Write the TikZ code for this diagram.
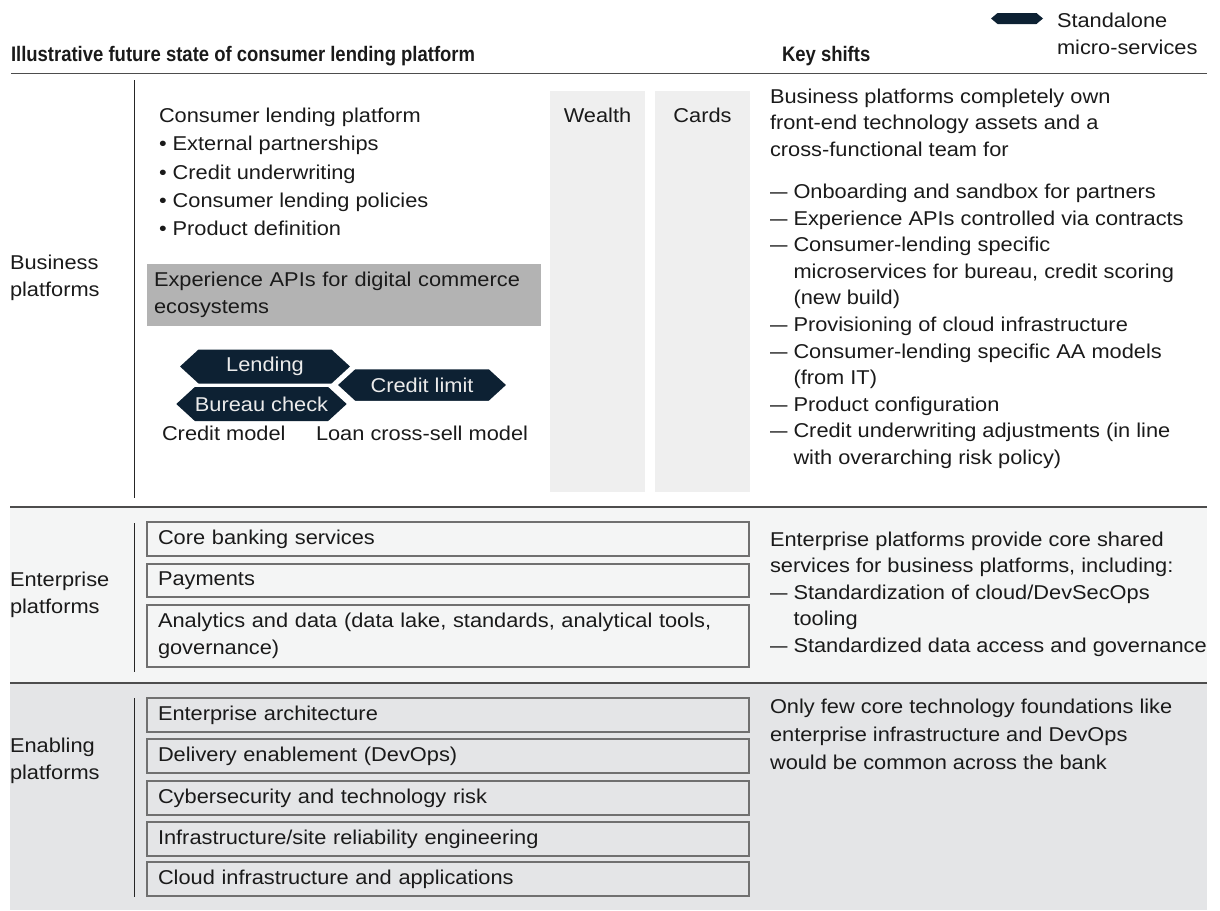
\documentclass[tikz,border=0pt]{standalone}
\usepackage{fontspec}
\setmainfont{Liberation Sans}[FakeStretch=1.09, BoldFeatures={FakeStretch=0.88}]
\usetikzlibrary{shapes.symbols}
\definecolor{navy}{HTML}{0D2133}
\definecolor{txt}{HTML}{1A1A1A}
\definecolor{apigrey}{HTML}{B3B3B3}
\definecolor{colgrey}{HTML}{EFEFEF}
\definecolor{entbg}{HTML}{F4F5F5}
\definecolor{enabg}{HTML}{E4E5E7}
\definecolor{linec}{HTML}{4D4D4D}
\definecolor{boxc}{HTML}{707070}
\newcommand\topline{\rule{0pt}{18pt}}
\newcommand\dsh{\scalebox{0.8}[1]{—}\ }
\newcommand\ind{\phantom{\dsh}}
\begin{document}
\begin{tikzpicture}[x=1pt,y=-1pt,
  every node/.style={inner sep=0pt, outer sep=0pt, text=txt},
  base/.style={font=\fontsize{20}{26.6}\selectfont},
  wide/.style={font=\fontsize{20}{28.3}\selectfont},
  txtblock/.style={base, anchor=north west, align=left},
  txtwide/.style={wide, anchor=north west, align=left},
  head/.style={font=\fontsize{21}{26.6}\selectfont\bfseries, anchor=north west, align=left},
  sepline/.style={draw=linec, line width=1.3pt},
  vline/.style={draw=black!85, line width=1pt},
  ebox/.style={base, draw=boxc, line width=1.2pt, anchor=north west, minimum width=602pt,
    text width=580pt, inner xsep=11pt, inner ysep=0pt, align=left},
  column/.style={fill=colgrey, anchor=north west, minimum width=95pt, minimum height=401pt},
  hexa/.style={base, signal, signal to=west and east, fill=navy, text=white!92!black,
    signal pointer angle=85, minimum height=34pt},
]
\useasboundingbox (0,0) rectangle (1220,910);

% backgrounds
\fill[entbg] (10,507) rectangle (1207,683);
\fill[enabg] (10,683) rectangle (1207,910);

% header
\node[head] (title) at (11,43) {\topline Illustrative future state of consumer lending platform};
\node[head] (keyshifts) at (782,43) {\topline Key shifts};
\node[hexa, minimum height=11pt, minimum width=52pt, signal pointer angle=80] (legendhex) at (1017,18.5) {};
\node[txtblock, font=\fontsize{20}{27}\selectfont] (legendtxt) at (1057,9) {\topline Standalone\\micro-services};

\coordinate (hl) at (11,73.5);
\coordinate (hr) at (1207,73.5);
\draw[sepline] (hl) -- (hr);
\coordinate (s1l) at (10,507);
\coordinate (s1r) at (1207,507);
\draw[sepline] (s1l) -- (s1r);
\coordinate (s2l) at (10,683);
\coordinate (s2r) at (1207,683);
\draw[sepline] (s2l) -- (s2r);

% vertical lines
\coordinate (v1a) at (134,80);  \coordinate (v1b) at (134,498);
\coordinate (v2a) at (134,523); \coordinate (v2b) at (134,672);
\coordinate (v3a) at (134,698); \coordinate (v3b) at (134,897);
\draw[vline] (v1a) -- (v1b);
\draw[vline] (v2a) -- (v2b);
\draw[vline] (v3a) -- (v3b);

% row labels
\node[txtwide, font=\fontsize{20}{27}\selectfont] (lbus) at (10,251) {\topline Business\\platforms};
\node[txtwide, font=\fontsize{20}{27}\selectfont] (lent) at (10,568) {\topline Enterprise\\platforms};
\node[txtwide, font=\fontsize{20}{27}\selectfont] (lena) at (10,734) {\topline Enabling\\platforms};

% business platform content
\node[column] (wealth) at (550,91) {};
\node[column] (cards) at (655,91) {};
\node[base, anchor=base] (wealthtxt) at (597.5,122) {Wealth};
\node[base, anchor=base] (cardstxt) at (702.5,122) {Cards};

\node[txtblock] (clp) at (159,104) {\topline Consumer lending platform};
\node[txtwide] (bullets) at (159,132.7) {\topline\textbullet\ External partnerships\\
\textbullet\ Credit underwriting\\
\textbullet\ Consumer lending policies\\
\textbullet\ Product definition};

\node[base, fill=apigrey, anchor=north west, minimum width=394pt, minimum height=62pt,
  text width=380pt, inner xsep=7pt, align=left] (api) at (147,264)
  {Experience APIs for digital commerce\\ecosystems};

\node[hexa, minimum width=170pt] (lending) at (265,366.5) {Lending};
\node[hexa, minimum width=163pt] (bureau) at (261.5,404) {Bureau check};
\node[hexa, minimum width=172pt, draw=white, line width=2.5pt] (climit) at (422,385) {Credit limit};

\node[base, anchor=base west] (cmodel) at (162,440) {Credit model};
\node[base, anchor=base west] (xsell) at (316,440) {Loan cross-sell model};

% key shifts: business
\node[txtblock] (ks1) at (770,85) {\topline Business platforms completely own\\
front-end technology assets and a\\
cross-functional team for};
\node[txtblock] (ks1list) at (770,180.5) {\topline \dsh Onboarding and sandbox for partners\\
\dsh Experience APIs controlled via contracts\\
\dsh Consumer-lending specific\\
\ind microservices for bureau, credit scoring\\
\ind (new build)\\
\dsh Provisioning of cloud infrastructure\\
\dsh Consumer-lending specific AA models\\
\ind (from IT)\\
\dsh Product configuration\\
\dsh Credit underwriting adjustments (in line\\
\ind with overarching risk policy)};

% enterprise platforms
\node[ebox, minimum height=34pt] (core) at (147,522) {Core banking services};
\node[ebox, minimum height=33pt] (pay) at (147,564) {Payments};
\node[ebox, minimum height=62pt] (anl) at (147,605) {Analytics and data (data lake, standards, analytical tools,\\governance)};
\node[txtblock] (ks2) at (770,528) {\topline Enterprise platforms provide core shared\\
services for business platforms, including:\\
\dsh Standardization of cloud/DevSecOps\\
\ind tooling\\
\dsh Standardized data access and governance};

% enabling platforms
\node[ebox, minimum height=34pt] (ea) at (147,698) {Enterprise architecture};
\node[ebox, minimum height=34pt] (de) at (147,739) {Delivery enablement (DevOps)};
\node[ebox, minimum height=34pt] (cy) at (147,781) {Cybersecurity and technology risk};
\node[ebox, minimum height=34pt] (inf) at (147,822) {Infrastructure/site reliability engineering};
\node[ebox, minimum height=34pt] (cl) at (147,862) {Cloud infrastructure and applications};
\node[txtwide] (ks3) at (770,695) {\topline Only few core technology foundations like\\
enterprise infrastructure and DevOps\\
would be common across the bank};
\end{tikzpicture}
\end{document}
